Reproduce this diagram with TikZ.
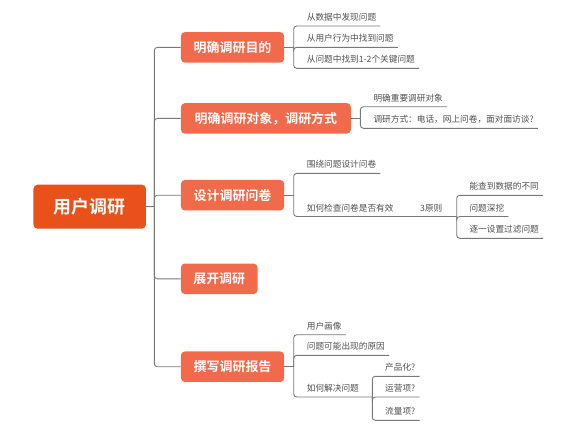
\documentclass[tikz,border=0pt]{standalone}
\usepackage{fontspec}
\setmainfont{Noto Sans CJK SC}[BoldFont={Noto Sans CJK SC Bold}]
\usetikzlibrary{calc}
\definecolor{rootc}{RGB}{232,82,26}
\definecolor{brc}{RGB}{242,106,76}
\definecolor{linec}{RGB}{120,120,120}
\definecolor{leafc}{RGB}{80,80,80}
% #1 name, #2 text x, #3 underline y, #4 junction coordinate, #5 text
\newcommand\mmleaf[5]{%
  \node[leaf] (#1) at (#2,#3-5.4) {#5};
  \coordinate (#1e) at ($(#1.base east)+(4,5.4)$);
  \draw[conn] (#4) -- (#4 |- #1e) -- (#1e);
}
\begin{document}
\begin{tikzpicture}[x=1bp,y=-1bp,
  conn/.style={draw=linec, line width=0.9bp, rounded corners=3bp},
  rootbox/.style={fill=rootc, rounded corners=4bp, text=white,
    font=\fontsize{18}{20}\selectfont\bfseries,
    minimum width=112.4bp, minimum height=44bp, inner sep=0, anchor=west},
  brbox/.style={fill=brc, rounded corners=4bp, text=white,
    font=\fontsize{13}{15}\selectfont\bfseries,
    minimum height=30.5bp, inner sep=0, anchor=west},
  leaf/.style={text=leafc, font=\fontsize{8.7}{10}\selectfont,
    inner sep=0, anchor=base west}]
\useasboundingbox[fill=white] (0,0) rectangle (576,432);

% main nodes
\node[rootbox] (root) at (33.3,206.7) {用户调研};
\node[brbox, minimum width=103.3bp] (b1) at (180.7,47.4) {明确调研目的};
\node[brbox, minimum width=170bp]   (b2) at (180.7,118.4) {明确调研对象，调研方式};
\node[brbox, minimum width=103.3bp] (b3) at (180.7,195.2) {设计调研问卷};
\node[brbox, minimum width=76.6bp]  (b4) at (180.7,278.8) {展开调研};
\node[brbox, minimum width=103.3bp] (b5) at (180.7,366.7) {撰写调研报告};

% trunk
\coordinate (trunk) at (154.3,206.5);
\draw[conn] (root.east) -- (trunk);
\foreach \b in {b1,b2,b3,b4,b5}
  \draw[conn] (trunk) -- (trunk |- \b.west) -- (\b.west);

% junctions
\path (b1.east) ++(9.3,0) coordinate (j1);
\path (b2.east) ++(9.3,0) coordinate (j2);
\path (b3.east) ++(9.3,0) coordinate (j3);
\path (b5.east) ++(9.3,0) coordinate (j5);
\foreach \b/\j in {b1/j1,b2/j2,b3/j3,b5/j5}
  \draw[conn] (\b.east) -- (\j);

% branch 1
\mmleaf{l11}{306.7}{26}{j1}{从数据中发现问题}
\mmleaf{l12}{306.7}{47.3}{j1}{从用户行为中找到问题}
\mmleaf{l13}{306.7}{68.3}{j1}{从问题中找到1-2个关键问题}

% branch 2
\mmleaf{l21}{373.3}{106.7}{j2}{明确重要调研对象}
\mmleaf{l22}{373.3}{128.3}{j2}{调研方式：电话，网上问卷，面对面访谈?}

% branch 3
\mmleaf{l31}{306.7}{173.3}{j3}{围绕问题设计问卷}
\mmleaf{l32}{306.7}{216.5}{j3}{如何检查问卷是否有效}
\node[leaf] (p3) at (420,216.5-5.4) {3原则};
\coordinate (j3b) at (456.7,216.5);
\draw[conn] (l32e) -- (j3b);
\mmleaf{l331}{469.3}{195.3}{j3b}{能查到数据的不同}
\mmleaf{l332}{469.3}{216.5}{j3b}{问题深挖}
\mmleaf{l333}{469.3}{238.3}{j3b}{逐一设置过滤问题}

% branch 5
\mmleaf{l51}{306.7}{334.7}{j5}{用户画像}
\mmleaf{l52}{306.7}{355.3}{j5}{问题可能出现的原因}
\mmleaf{l53}{306.7}{397}{j5}{如何解决问题}
\coordinate (j5b) at (372.3,397);
\draw[conn] (l53e) -- (j5b);
\mmleaf{l531}{385}{376.3}{j5b}{产品化?}
\mmleaf{l532}{385}{397}{j5b}{运营项?}
\mmleaf{l533}{385}{420.3}{j5b}{流量项?}
\end{tikzpicture}
\end{document}
